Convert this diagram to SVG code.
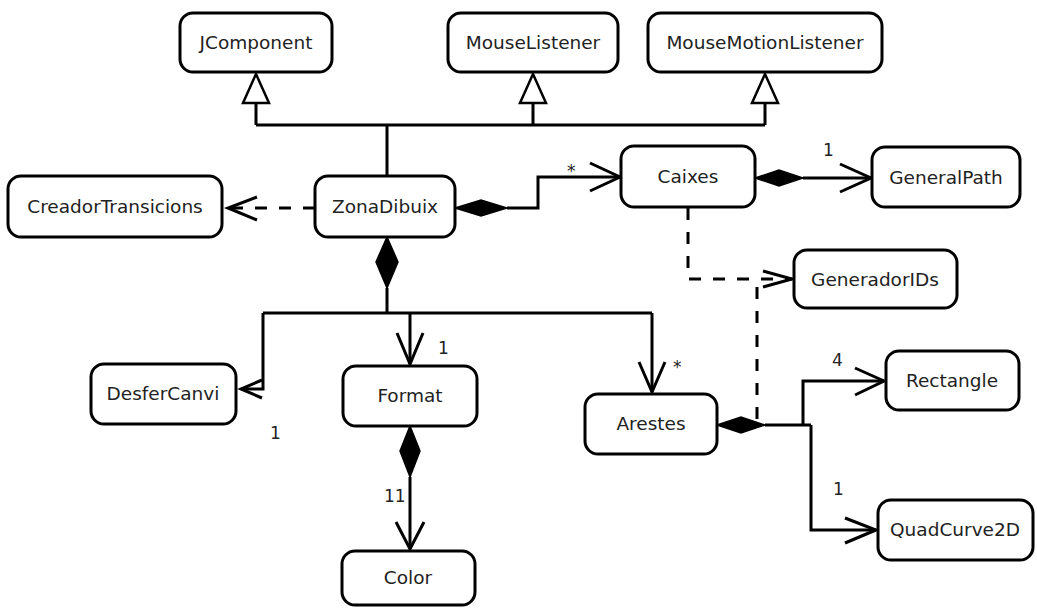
<svg xmlns="http://www.w3.org/2000/svg" width="1037" height="608" viewBox="0 0 1037 608">
<style>
.box{fill:#fff;stroke:#000;stroke-width:3}
.t{font-family:"DejaVu Sans",sans-serif;font-size:18.5px;fill:#222;text-anchor:middle}
.l{font-family:"DejaVu Sans",sans-serif;font-size:17px;fill:#222}
.ln{fill:none;stroke:#000;stroke-width:3}
.ds{fill:none;stroke:#000;stroke-width:3;stroke-dasharray:12 12}
.tri{fill:#fff;stroke:#000;stroke-width:2.5}
.dia{fill:#000;stroke:#000;stroke-width:1.5}
.ar{fill:none;stroke:#000;stroke-width:3}
</style>
<rect width="1037" height="608" fill="#fff"/>
<g id="connectors">
  <path class="ln" d="M387,175 V125 M256,125 H765 M256,125 V103 M533,125 V103 M765,125 V103"/>
  <path class="tri" d="M256,74 L243,103 H269 Z"/>
  <path class="tri" d="M533,74 L520,103 H546 Z"/>
  <path class="tri" d="M765,74 L752,103 H778 Z"/>
  <path class="ds" d="M315,208 H228"/>
  <path class="ar" d="M257,197 L228,208 L257,220"/>
  <path class="dia" d="M455,208 L481,200 L507,208 L481,216 Z"/>
  <path class="ln" d="M507,208 H538 V177 H620"/>
  <path class="ar" d="M590,163 L620,177 L590,191"/>
  <text class="l" x="567" y="177">*</text>
  <path class="dia" d="M755,178 L779,170 L803,178 L779,186 Z"/>
  <path class="ln" d="M803,178 H871"/>
  <path class="ar" d="M840,164 L871,178 L840,192"/>
  <text class="l" x="823" y="156">1</text>
  <path class="ds" d="M688,208 V279 H792"/>
  <path class="ar" d="M763,271 L792,279 L763,287"/>
  <path class="ds" d="M757,287 V420"/>
  <path class="dia" d="M387,237 L376,262 L387,288 L398,262 Z"/>
  <path class="ln" d="M387,288 V313 M263,313 H652 M263,313 V389 H241 M410,313 V364 M652,313 V392"/>
  <path class="ar" d="M262,380 L241,389 L262,398"/>
  <text class="l" x="270" y="439">1</text>
  <path class="ar" d="M397,333 L410,364 L423,333"/>
  <text class="l" x="438" y="354">1</text>
  <path class="ar" d="M639,362 L652,392 L665,362"/>
  <text class="l" x="673" y="373">*</text>
  <path class="dia" d="M410,426 L400,451 L410,477 L420,451 Z"/>
  <path class="ln" d="M410,477 V549"/>
  <path class="ar" d="M396,522 L410,549 L424,522"/>
  <text class="l" x="384" y="502">11</text>
  <path class="dia" d="M717,425 L741,417 L765,425 L741,433 Z"/>
  <path class="ln" d="M765,425 H811 M803,425 V381 H884 M811,425 V530 H876"/>
  <path class="ar" d="M855,368 L884,381 L855,395"/>
  <text class="l" x="832" y="366">4</text>
  <path class="ar" d="M845,518 L876,530 L845,543"/>
  <text class="l" x="833" y="495">1</text>
</g>
<g id="JComponent"><rect class="box" x="180" y="13" width="152" height="59" rx="13"/><text class="t" x="256" y="49">JComponent</text></g>
<g id="MouseListener"><rect class="box" x="448" y="13" width="170" height="59" rx="13"/><text class="t" x="533" y="49">MouseListener</text></g>
<g id="MouseMotionListener"><rect class="box" x="648" y="13" width="234" height="59" rx="13"/><text class="t" x="765" y="49">MouseMotionListener</text></g>
<g id="CreadorTransicions"><rect class="box" x="8" y="176" width="214" height="61" rx="13"/><text class="t" x="115" y="213">CreadorTransicions</text></g>
<g id="ZonaDibuix"><rect class="box" x="315" y="176" width="140" height="61" rx="13"/><text class="t" x="385" y="213">ZonaDibuix</text></g>
<g id="Caixes"><rect class="box" x="621" y="146" width="134" height="61" rx="13"/><text class="t" x="688" y="183">Caixes</text></g>
<g id="GeneralPath"><rect class="box" x="872" y="147" width="148" height="60" rx="13"/><text class="t" x="946" y="184">GeneralPath</text></g>
<g id="GeneradorIDs"><rect class="box" x="794" y="250" width="163" height="58" rx="13"/><text class="t" x="875" y="286">GeneradorIDs</text></g>
<g id="DesferCanvi"><rect class="box" x="91" y="364" width="145" height="60" rx="13"/><text class="t" x="163" y="400">DesferCanvi</text></g>
<g id="Format"><rect class="box" x="343" y="366" width="134" height="60" rx="13"/><text class="t" x="410" y="402">Format</text></g>
<g id="Arestes"><rect class="box" x="585" y="394" width="132" height="60" rx="13"/><text class="t" x="651" y="430">Arestes</text></g>
<g id="Rectangle"><rect class="box" x="886" y="351" width="133" height="59" rx="13"/><text class="t" x="952" y="387">Rectangle</text></g>
<g id="QuadCurve2D"><rect class="box" x="878" y="500" width="155" height="60" rx="13"/><text class="t" x="955" y="536">QuadCurve2D</text></g>
<g id="Color"><rect class="box" x="342" y="551" width="133" height="54" rx="13"/><text class="t" x="408" y="584">Color</text></g>
</svg>
